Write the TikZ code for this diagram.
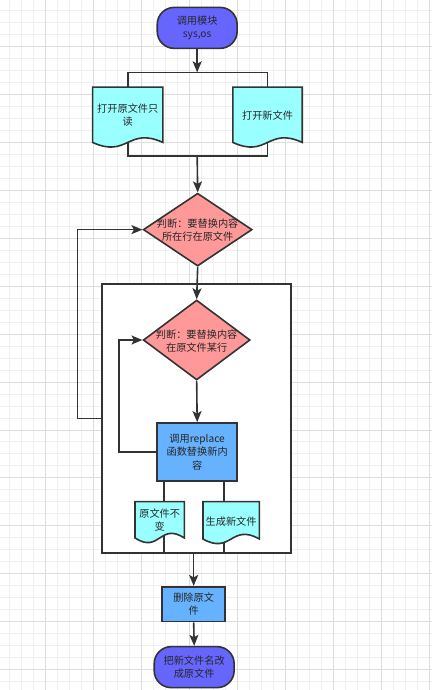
\documentclass[tikz,border=0pt]{standalone}
\usepackage{fontspec}
\newfontfamily\cjk{Noto Sans CJK SC}
\usetikzlibrary{shapes.geometric,arrows.meta,calc}
\pgfdeclarelayer{gridlayer}
\pgfdeclarelayer{bg}
\pgfsetlayers{gridlayer,bg,main}
\definecolor{linec}{HTML}{333333}
\definecolor{termc}{HTML}{6666FF}
\definecolor{docc}{HTML}{99FFFF}
\definecolor{diac}{HTML}{FF9999}
\definecolor{procc}{HTML}{66B2FF}
\definecolor{gmaj}{HTML}{DDDDDD}
\definecolor{gmin}{HTML}{F0F0F0}
\definecolor{txtc}{HTML}{262626}
\tikzset{
  ln/.style={draw=linec, line width=1.6pt},
  arr/.style={ln, -{Stealth[length=11pt,width=9pt,inset=2.5pt]}},
  txt/.style={font=\cjk\fontsize{10.2}{13.5}\selectfont, text=txtc, align=center, inner sep=0pt},
  terminal/.style={txt, draw=linec, line width=1.6pt, fill=termc, rounded corners=17pt, minimum width=80pt, minimum height=41pt},
  procbox/.style={txt, draw=linec, line width=1.6pt, fill=procc},
  docn/.style={txt, minimum width=#1, inner sep=0pt},
  dia/.style={shape=diamond, draw=linec, line width=1.6pt, fill=diac, inner sep=0pt},
}
\newcommand\docshape[1]{%
  \path[draw=linec, line width=1.6pt, fill=docc] (#1.north west) -- (#1.north east) -- (#1.south east)
    .. controls ($(#1.south)+(0,-16)$) and ($(#1.south)+(0,16)$) .. (#1.south west) -- cycle;}
\begin{document}
\begin{tikzpicture}[x=1pt,y=-1pt]
\begin{pgfonlayer}{gridlayer}
\fill[white] (0,0) rectangle (432,690);
\foreach \x in {9,21,...,429} \draw[gmin, line width=0.8pt] (\x,0) -- (\x,690);
\foreach \y in {10,22,...,682} \draw[gmin, line width=0.8pt] (0,\y) -- (432,\y);
\foreach \x in {45,93,...,429} \draw[gmaj, line width=0.8pt] (\x,0) -- (\x,690);
\foreach \y in {46,94,...,670} \draw[gmaj, line width=0.8pt] (0,\y) -- (432,\y);
\end{pgfonlayer}
\useasboundingbox (0,0) rectangle (432,690);

% big container
\begin{pgfonlayer}{gridlayer}
\node[draw=linec, line width=1.6pt, fill=white, minimum width=189pt, minimum height=269pt, inner sep=0pt] (big) at (196.5,418.5) {};
\end{pgfonlayer}

% nodes
\node[terminal] (t1) at (197,27.5) {调用模块\\sys,os};
\node[docn=70pt, minimum height=55pt] (d1) at (127.5,114.5) {};
\docshape{d1}
\node[txt] (d1t) at (127.5,115) {打开原文件只\\读};
\node[docn=69pt, minimum height=55pt] (d2) at (267.5,114.5) {};
\docshape{d2}
\node[txt] (d2t) at (267.5,115) {打开新文件};

\node[dia, minimum width=109pt, minimum height=73pt] (q1) at (197.5,229.5) {};
\node[txt] (q1t) at (197.5,230) {判断：要替换内容\\所在行在原文件};

\node[dia, minimum width=107pt, minimum height=80pt] (q2) at (196.5,340) {};
\node[txt] (q2t) at (196.5,341) {判断：要替换内容\\在原文件某行};

\node[procbox, minimum width=80pt, minimum height=58pt] (p) at (197,452) {调用replace\\函数替换新内\\容};

\node[docn=49pt, minimum height=36pt] (d3) at (159.5,520) {};
\docshape{d3}
\node[txt] (d3t) at (159.5,520.5) {原文件不\\变};
\node[docn=56pt, minimum height=37pt] (d4) at (231,520.5) {};
\docshape{d4}
\node[txt] (d4t) at (231,522) {生成新文件};

\node[procbox, minimum width=63pt, minimum height=35pt] (del) at (193.5,604.5) {删除原文\\件};
\node[terminal] (t2) at (194,667.5) {把新文件名改\\成原文件};

\coordinate (s1) at (197,72);
\coordinate (j1) at (197,156);
\coordinate (lo) at (77,418.5);
\coordinate (li) at (119,452);

\begin{pgfonlayer}{bg}
\draw[arr] (t1.south) -- (s1);
\draw[ln] (d1.north) |- (s1) -| (d2.north);
\draw[ln] (d1.south) |- (j1) -| (d2.south);
\draw[arr] (j1) -- (q1.north);
\draw[arr] (big.west) -- (lo) |- (q1.west);
\draw[arr] (q1.south) -- (q2.north);
\draw[arr] (q2.south) -- (p.north);
\draw[arr] (p.west) -- (li) |- (q2.west);
\draw[ln] ([xshift=-33pt]p.south) -- ([xshift=-33pt]p.south |- d3.north);
\draw[ln] ([xshift=27pt]p.south) -- ([xshift=27pt]p.south |- d4.north);
\draw[ln] ([xshift=-33pt,yshift=8pt]p.south |- d3.south) -- ([xshift=-33pt]p.south |- big.south);
\draw[ln] ([xshift=27pt,yshift=8pt]p.south |- d4.south) -- ([xshift=27pt]p.south |- big.south);
\draw[arr] (del.north |- big.south) -- (del.north);
\draw[arr] (del.south) -- (t2.north);
\end{pgfonlayer}
\end{tikzpicture}
\end{document}
